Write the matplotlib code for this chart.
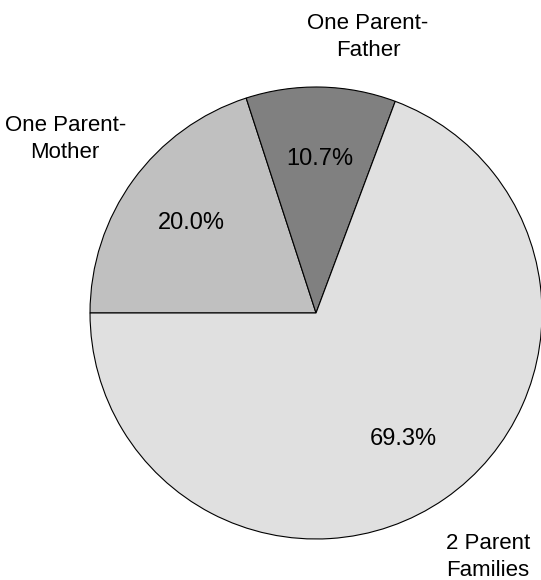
import matplotlib
matplotlib.use("Agg")
import matplotlib.pyplot as plt

categories = ["One Parent-\nMother", "One Parent-\nFather", "2 Parent\nFamilies"]
values = [20.0, 10.7, 69.3]
colors = ["#c0c0c0", "#808080", "#e0e0e0"]

plt.rcParams['font.family'] = ['Liberation Sans', 'DejaVu Sans']

fig = plt.figure(figsize=(5.41, 5.80), dpi=100)
ax = fig.add_axes([0.1664, 0.0707, 0.8355, 0.7793])

wedges, texts, autotexts = ax.pie(
    values, labels=categories, colors=colors, startangle=180, counterclock=False,
    autopct="%1.1f%%", pctdistance=0.68, labeldistance=1.3,
    wedgeprops=dict(edgecolor="black", linewidth=0.8),
    textprops=dict(fontsize=16, color="black"))

for t in autotexts:
    t.set_fontsize(17)

label_pos = [(-1.11, 0.77), (0.23, 1.22), (0.76, -1.08)]
for t, p in zip(texts, label_pos):
    t.set_position(p)
    t.set_ha("center")
    t.set_va("center")
    t.set_linespacing(1.4)

ax.set_xlim(-1, 1)
ax.set_ylim(-1, 1)
ax.set_aspect("equal")
fig.savefig("out.png", dpi=100)
